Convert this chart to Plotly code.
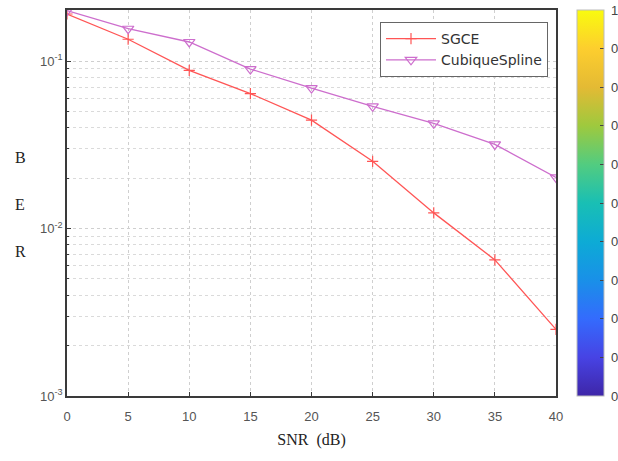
import plotly.graph_objects as go

snr = [0, 5, 10, 15, 20, 25, 30, 35, 40]
ber_sgce = [0.191, 0.135, 0.088, 0.064, 0.0444, 0.0252, 0.0124, 0.0065, 0.0025]
ber_spline = [0.200, 0.156, 0.130, 0.0896, 0.069, 0.0537, 0.0425, 0.0318, 0.0202]
y_tickvals = [0.001, 0.01, 0.1]
y_ticktext = ["10<sup>-3</sup>", "10<sup>-2</sup>", "10<sup>-1</sup>"]
cb_vals = [0, 0.1, 0.2, 0.3, 0.4, 0.5, 0.6, 0.7, 0.8, 0.9, 1]
cb_text = ["0", "0", "0", "0", "0", "0", "0", "0", "0", "0", "1"]

parula = [
    [0.0, "rgb(62,38,168)"], [0.1, "rgb(71,67,228)"], [0.2, "rgb(52,107,253)"],
    [0.3, "rgb(25,144,232)"], [0.4, "rgb(13,171,213)"], [0.5, "rgb(25,191,180)"],
    [0.6, "rgb(82,204,128)"], [0.7, "rgb(158,201,62)"], [0.8, "rgb(228,186,52)"],
    [0.9, "rgb(253,206,46)"], [1.0, "rgb(249,251,14)"],
]

ML, MT, PW, PH = 67, 10, 489, 386

fig = go.Figure()
fig.add_trace(go.Scatter(
    x=snr, y=ber_sgce, name="SGCE", mode="lines+markers",
    line=dict(color="rgb(255,85,85)", width=1.3),
    marker=dict(symbol="cross-thin", size=8, line=dict(color="rgb(255,85,85)", width=1.2)),
))
fig.add_trace(go.Scatter(
    x=snr, y=ber_spline, name="CubiqueSpline", mode="lines+markers",
    line=dict(color="rgb(205,110,205)", width=1.3),
    marker=dict(symbol="triangle-down-open", size=10, color="rgb(205,110,205)",
                line=dict(color="rgb(205,110,205)", width=1.2)),
))
fig.add_trace(go.Scatter(
    x=[None], y=[None], mode="markers", showlegend=False, hoverinfo="skip",
    marker=dict(color=[0, 1], cmin=0, cmax=1, colorscale=parula, showscale=True,
                colorbar=dict(x=(577 - ML) / PW, xanchor="left", y=0.5, yanchor="middle", len=1.0,
                              thickness=27, outlinewidth=1, outlinecolor="#bbbbbb",
                              tickvals=cb_vals, showticklabels=False, ticks="inside",
                              ticklen=4, tickcolor="#444",
                              xpad=0, ypad=0)),
))

axis_common = dict(showline=True, linecolor="#3a3a3a", linewidth=1.6, mirror=True,
                   ticks="inside", ticklen=4, tickcolor="#3a3a3a",
                   showgrid=True, gridcolor="#cfcfcf", griddash="dot", gridwidth=1,
                   zeroline=False,
                   tickfont=dict(family="Liberation Sans, Arial", size=13, color="#555"))

fig.update_xaxes(range=[0, 40], tickvals=snr, ticklabelstandoff=8, **axis_common,
                 title=dict(text="SNR  (dB)", font=dict(family="Liberation Serif, Times New Roman", size=16, color="#222"), standoff=10))
fig.update_yaxes(type="log", range=[-3, -0.695], tickvals=y_tickvals, ticktext=y_ticktext,
                 minor=dict(showgrid=True, gridcolor="#dadada", griddash="dot", ticks="inside",
                            ticklen=2, tickcolor="#3a3a3a", dtick="D1"),
                 **axis_common)

for v, t in zip(cb_vals, cb_text):
    fig.add_annotation(text=t, xref="paper", yref="paper", x=(609 - ML) / PW, y=v,
                       showarrow=False, xanchor="left", yanchor="middle",
                       font=dict(family="Liberation Sans, Arial", size=13, color="#444"))

for letter, yy in [("B", 157), ("E", 204), ("R", 251)]:
    fig.add_annotation(text=letter, xref="paper", yref="paper", x=(20 - ML) / PW,
                       y=1 - (yy - MT) / PH, showarrow=False, xanchor="center", yanchor="middle",
                       font=dict(family="Liberation Serif, Times New Roman", size=16, color="#222"))

fig.update_layout(
    width=618, height=461, autosize=False,
    margin=dict(l=ML, r=618 - ML - PW, t=MT, b=461 - MT - PH, autoexpand=False),
    paper_bgcolor="white", plot_bgcolor="white",
    legend=dict(x=(548 - ML) / PW, xanchor="right", y=1 - (22 - MT) / PH, yanchor="top",
                bgcolor="white", bordercolor="#666", borderwidth=1,
                font=dict(family="DejaVu Sans, Arial", size=14, color="#333"),
                itemwidth=50, tracegroupgap=0),
    showlegend=True,
)

fig.write_html("out.html", config={"displayModeBar": False},
               post_script="document.body.style.margin='0';document.body.style.overflow='hidden';")
